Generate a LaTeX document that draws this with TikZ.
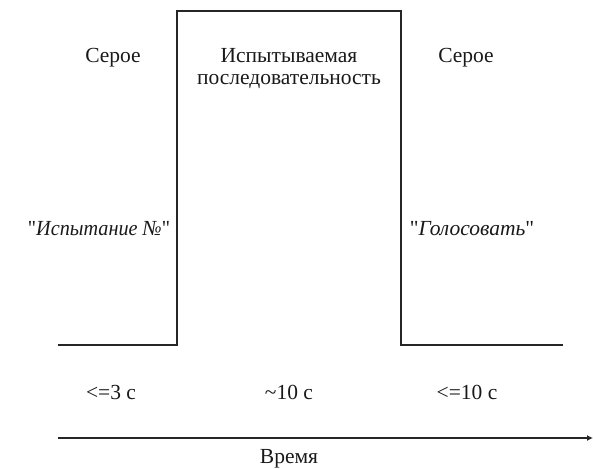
\documentclass[tikz,border=0pt]{standalone}
\usepackage{fontspec}
\setmainfont{Liberation Serif}[Ligatures=TeXOff]
\usetikzlibrary{arrows.meta}
\newcommand{\sq}{\symbol{34}}
\begin{document}
\begin{tikzpicture}[x=1pt,y=-1pt,
  line/.style={draw=black!85, line width=1.2pt},
  lbl/.style={font=\fontsize{21.5}{22}\selectfont, text=black!90, inner sep=0pt, align=center}]
\useasboundingbox (0,0) rectangle (593,468);
% signal timeline
\coordinate (p0) at (58,345);
\coordinate (p1) at (177,345);
\coordinate (p2) at (177,11);
\coordinate (p3) at (401,11);
\coordinate (p4) at (401,345);
\coordinate (p5) at (563,345);
\draw[line] (p0) -- (p1) -- (p2) -- (p3) -- (p4) -- (p5);
% time axis
\coordinate (t0) at (58,438);
\coordinate (t1) at (593,438);
\draw[line, -{Latex[length=6pt,width=6pt]}] (t0) -- (t1);
% labels
\node[lbl] (grey1) at (113,58) {Серое};
\node[lbl] (seq) at (289,69) {Испытываемая\\последовательность};
\node[lbl] (grey2) at (466,58) {Серое};
\node[lbl, xscale=0.94] (trial) at (99,229) {\sq\textit{Испытание №}\sq};
\node[lbl] (vote) at (472,229) {\sq\textit{Голосовать}\sq};
\node[lbl] (d1) at (111,392) {<=3 с};
\node[lbl] (d2) at (289,392) {\textasciitilde10 с};
\node[lbl] (d3) at (467,392) {<=10 с};
\node[lbl] (time) at (289,459) {Время};
\end{tikzpicture}
\end{document}
